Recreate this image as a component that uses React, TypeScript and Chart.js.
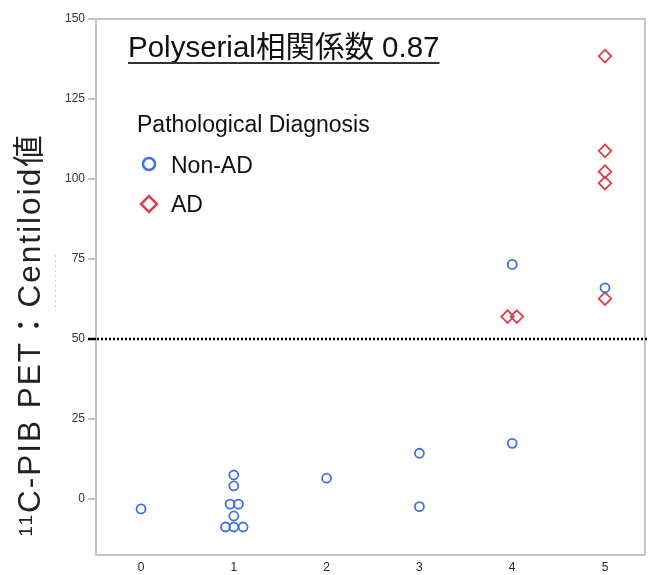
import React, { useEffect, useRef } from "react";
import { Chart, registerables } from "chart.js";

Chart.register(...registerables);

const chartTitle = "Polyserial相関係数 0.87";
const legendTitle = "Pathological Diagnosis";
const seriesNames = ["Non-AD", "AD"];
const yTitleSup = "11";
const yTitleMain = "C-PIB PET：Centiloid値";

const xTicks = [0, 1, 2, 3, 4, 5];
const yTicks = [0, 25, 50, 75, 100, 125, 150];
const cutoff = 50;

const nonAdX = [0, 1, 1, 0.96, 1.05, 1, 0.91, 1, 1.1, 2, 3, 3, 4, 4, 5];
const nonAdY = [-3.1, 7.5, 4.1, -1.6, -1.6, -5.3, -8.75, -8.75, -8.75, 6.5, 14.3, -2.4, 17.4, 73.3, 66.0];
const adX = [3.95, 4.05, 5, 5, 5, 5, 5];
const adY = [57.0, 57.0, 138.4, 108.8, 102.3, 98.7, 62.6];

const BLUE = "#4070e0";
const RED = "#d8414f";
const AXIS = "#c4c4c4";
const FONT = "'Liberation Sans', Arial, 'Noto Sans CJK JP', sans-serif";

export default function App() {
  const ref = useRef<HTMLCanvasElement | null>(null);

  useEffect(() => {
    const canvas = ref.current;
    if (!canvas) return;

    const overlay = {
      id: "overlay",
      beforeDatasetsDraw(chart: any) {
        const { ctx, chartArea } = chart;
        const ys = chart.scales.y;
        ctx.save();
        ctx.strokeStyle = AXIS;
        ctx.lineWidth = 2;
        ctx.beginPath();
        ctx.moveTo(chartArea.left, chartArea.top);
        ctx.lineTo(chartArea.right, chartArea.top);
        ctx.lineTo(chartArea.right, chartArea.bottom);
        ctx.stroke();
        const y50 = ys.getPixelForValue(cutoff);
        ctx.strokeStyle = "#000";
        ctx.lineWidth = 2.5;
        ctx.beginPath();
        ctx.moveTo(chartArea.left - 8, y50);
        ctx.lineTo(chartArea.left, y50);
        ctx.stroke();
        ctx.setLineDash([2, 2]);
        ctx.beginPath();
        ctx.moveTo(chartArea.left + 1, y50);
        ctx.lineTo(chart.width, y50);
        ctx.stroke();
        ctx.setLineDash([]);
        ctx.restore();
      },
      afterDraw(chart: any) {
        const { ctx } = chart;
        ctx.save();
        ctx.fillStyle = "#111";
        ctx.font = `29.5px ${FONT}`;
        ctx.textBaseline = "alphabetic";
        ctx.textAlign = "left";
        ctx.fillText(chartTitle, 128, 57);
        const tw = ctx.measureText(chartTitle).width;
        ctx.strokeStyle = "#333";
        ctx.lineWidth = 2;
        ctx.beginPath();
        ctx.moveTo(128, 63);
        ctx.lineTo(128 + tw, 63);
        ctx.stroke();

        ctx.font = `23px ${FONT}`;
        ctx.fillStyle = "#111";
        ctx.fillText(legendTitle, 137, 132);
        ctx.fillText(seriesNames[0], 171, 173);
        ctx.fillText(seriesNames[1], 171, 212);
        ctx.lineWidth = 2.5;
        ctx.strokeStyle = BLUE;
        ctx.beginPath();
        ctx.arc(149, 164, 6, 0, Math.PI * 2);
        ctx.stroke();
        ctx.strokeStyle = RED;
        ctx.beginPath();
        ctx.moveTo(141, 204);
        ctx.lineTo(149, 196);
        ctx.lineTo(157, 204);
        ctx.lineTo(149, 212);
        ctx.closePath();
        ctx.stroke();

        // y title
        ctx.translate(31, 335);
        ctx.rotate(-Math.PI / 2);
        ctx.fillStyle = "#222";
        (ctx as any).letterSpacing = "2px";
        ctx.font = `19px ${FONT}`;
        const supW = ctx.measureText(yTitleSup).width;
        ctx.font = `31.5px ${FONT}`;
        const mainW = ctx.measureText(yTitleMain).width;
        const start = -(supW + mainW) / 2;
        ctx.textBaseline = "middle";
        ctx.font = `19px ${FONT}`;
        ctx.fillText(yTitleSup, start, -4);
        ctx.font = `31.5px ${FONT}`;
        ctx.fillText(yTitleMain, start + supW, 0);
        (ctx as any).letterSpacing = "0px";
        ctx.restore();

        ctx.save();
        ctx.strokeStyle = "#d0d0d0";
        ctx.lineWidth = 1;
        ctx.setLineDash([2, 3]);
        ctx.beginPath();
        ctx.moveTo(55.5, 255);
        ctx.lineTo(55.5, 311);
        ctx.stroke();
        ctx.restore();
      },
    };

    const chart = new Chart(canvas, {
      type: "scatter",
      data: {
        datasets: [
          {
            label: seriesNames[0],
            data: nonAdX.map((x, i) => ({ x, y: nonAdY[i] })),
            pointStyle: "circle",
            pointRadius: 4.5,
            pointBorderWidth: 1.8,
            borderColor: BLUE,
            backgroundColor: "rgba(0,0,0,0)",
          },
          {
            label: seriesNames[1],
            data: adX.map((x, i) => ({ x, y: adY[i] })),
            pointStyle: "rectRot",
            pointRadius: 6.3,
            pointBorderWidth: 1.8,
            borderColor: RED,
            backgroundColor: "rgba(0,0,0,0)",
          },
        ],
      },
      options: {
        responsive: false,
        devicePixelRatio: 1,
        animation: false,
        layout: { padding: { top: 19, right: 0, left: 0, bottom: 0 } },
        plugins: { legend: { display: false }, tooltip: { enabled: false }, title: { display: false } },
        scales: {
          x: {
            type: "linear",
            min: -0.485,
            max: 5.43,
            afterBuildTicks: (s: any) => {
              s.ticks = xTicks.map((v) => ({ value: v }));
            },
            afterFit: (s: any) => {
              s.height = 20;
            },
            grid: { display: false, drawTicks: false },
            border: { display: true, color: AXIS, width: 2 },
            ticks: { color: "#222", font: { size: 12, family: FONT }, padding: 5 },
          },
          y: {
            type: "linear",
            min: -17.5,
            max: 150,
            afterBuildTicks: (s: any) => {
              s.ticks = yTicks.map((v) => ({ value: v }));
            },
            afterFit: (s: any) => {
              s.width = 96;
            },
            grid: { drawOnChartArea: false, drawTicks: true, tickLength: 8, color: AXIS, lineWidth: 2 },
            border: { display: true, color: AXIS, width: 2 },
            ticks: { color: "#333", font: { size: 12, family: FONT }, padding: 3 },
          },
        },
      },
      plugins: [overlay],
    });

    return () => chart.destroy();
  }, []);

  return (
    <div style={{ position: "absolute", left: 0, top: 0, width: 649, height: 575, overflow: "hidden", background: "#fff" }}>
      <canvas ref={ref} width={653} height={575} style={{ display: "block" }} />
    </div>
  );
}
